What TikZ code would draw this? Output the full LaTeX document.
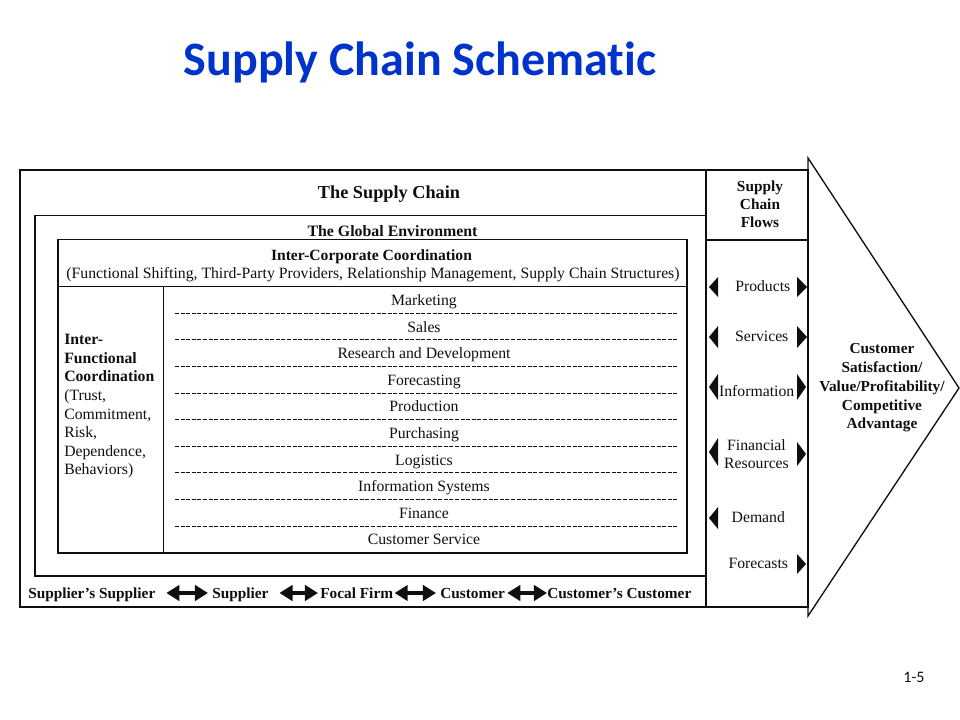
\documentclass[tikz,border=0pt]{standalone}
\usepackage{fontspec}
\setmainfont{Liberation Serif}
\newfontfamily\calibri[Ligatures={NoCommon}]{Carlito}
\usetikzlibrary{arrows.meta}
\definecolor{titleblue}{RGB}{0,51,204}
\definecolor{ink}{RGB}{15,15,15}
\begin{document}
\begin{tikzpicture}[x=0.75pt,y=-0.75pt,
  boxline/.style={draw=ink, line width=1pt},
  rg/.style={inner sep=0pt, text=ink, font=\fontsize{11.8}{14}\selectfont, text height=7.8pt, text depth=0pt},
  bd/.style={inner sep=0pt, text=ink, font=\bfseries\fontsize{11.5}{14}\selectfont, text height=7.6pt, text depth=0pt},
  multi/.style={inner sep=0pt, text=ink, align=center},
  dsh/.style={draw=ink, line width=0.7pt, dash pattern=on 3pt off 1.2pt},
  flowtri/.style={fill=ink},
  dbl/.style={line width=3pt, draw=ink, {Triangle[length=9.8pt,width=11.5pt]}-{Triangle[length=9.8pt,width=11.5pt]}}
]
\useasboundingbox (0,0) rectangle (960,720);

% title
\node[inner sep=0pt, text=titleblue, font=\calibri\bfseries\fontsize{36}{40}\selectfont, text height=23.2pt, text depth=0pt] (title) at (420,60.5) {Supply Chain Schematic};
\node[inner sep=0pt, text=ink, font=\calibri\fontsize{12}{14}\selectfont, text height=7.7pt, text depth=0pt] (pnum) at (914,677) {1-5};

% big arrow
\draw[boxline] (808,158) -- (959,388) -- (808,616) -- cycle;

% outer box
\draw[boxline] (20,170) rectangle (808,607);
% flows column
\draw[boxline] (706,170) -- (706,607);
\draw[boxline] (706,240) -- (808,240);
% global environment box
\draw[boxline] (35,215.5) rectangle (706,576);
% inter-corporate box
\draw[boxline] (58,239.5) rectangle (687,553);
\draw[boxline] (58,286.5) -- (687,286.5);
\draw[boxline] (163.3,286.5) -- (163.3,553);

% dashed separators
\foreach \k in {0,...,8}{
  \draw[dsh] (175,313.3+26.6*\k) -- (678,313.3+26.6*\k);
}

% headings
\node[bd, font=\bfseries\fontsize{13.7}{16}\selectfont, text height=9pt] (sc) at (389,193) {The Supply Chain};
\node[bd, font=\bfseries\fontsize{11.9}{14}\selectfont, text height=7.8pt] (ge) at (392.5,231) {The Global Environment};
\node[bd, font=\bfseries\fontsize{11.7}{14}\selectfont, text height=7.7pt] (icc) at (371.5,255) {Inter-Corporate Coordination};
\node[rg] (iccsub) at (373,273) {(Functional Shifting, Third-Party Providers, Relationship Management, Supply Chain Structures)};

% functions
\node[rg] (f1) at (424,300.2) {Marketing};
\node[rg] (f2) at (424,326.8) {Sales};
\node[rg] (f3) at (424,353.4) {Research and Development};
\node[rg] (f4) at (424,380) {Forecasting};
\node[rg] (f5) at (424,406.6) {Production};
\node[rg] (f6) at (424,433.2) {Purchasing};
\node[rg] (f7) at (424,459.8) {Logistics};
\node[rg] (f8) at (424,486.4) {Information Systems};
\node[rg] (f9) at (424,513) {Finance};
\node[rg] (f10) at (424,539.3) {Customer Service};

% inter-functional coordination
\node[anchor=west, align=left, inner sep=0pt, text=ink, font=\fontsize{11.8}{13.93}\selectfont] (ifc) at (64,406.3)
  {\textbf{Inter-}\\\textbf{Functional}\\\textbf{Coordination}\\(Trust,\\Commitment,\\Risk,\\Dependence,\\Behaviors)};

% flows header
\node[multi, font=\bfseries\fontsize{11.5}{13.5}\selectfont] (scf) at (760,204.3) {Supply\\Chain\\Flows};

% flows
\node[rg] (pr) at (762.8,286.7) {Products};
\node[rg] (sv) at (761.7,336.7) {Services};
\node[rg] (inf) at (756.7,391.7) {Information};
\node[multi, font=\fontsize{11.8}{14}\selectfont] (fin) at (756.5,454) {Financial\\Resources};
\node[rg] (dm) at (758.3,517.3) {Demand};
\node[rg] (fc) at (758.3,563.3) {Forecasts};

% flow triangles
\fill[flowtri] (709,287) -- (718,277) -- (718,297) -- cycle;
\fill[flowtri] (807,287) -- (797,277) -- (797,297) -- cycle;
\fill[flowtri] (709,337) -- (718,326) -- (718,348) -- cycle;
\fill[flowtri] (807,337) -- (797,326) -- (797,348) -- cycle;
\fill[flowtri] (709,387) -- (718,374) -- (718,400) -- cycle;
\fill[flowtri] (806,387) -- (797,374) -- (797,400) -- cycle;
\fill[flowtri] (709,452) -- (718,438) -- (718,466) -- cycle;
\fill[flowtri] (806,454) -- (797,442) -- (797,466) -- cycle;
\fill[flowtri] (709,518) -- (718,507) -- (718,529) -- cycle;
\fill[flowtri] (806,564) -- (797,554) -- (797,574) -- cycle;

% arrow text
\node[multi, font=\bfseries\fontsize{11.5}{14.06}\selectfont] (cs) at (882,388) {Customer\\Satisfaction/\\Value/Profitability/\\Competitive\\Advantage};

% bottom row
\node[bd, anchor=west] (ss) at (28,593) {Supplier’s Supplier};
\node[bd, anchor=west] (sup) at (212,593) {Supplier};
\node[bd, anchor=west] (ff) at (320,593) {Focal Firm};
\node[bd, anchor=west] (cu) at (440,593) {Customer};
\node[bd, anchor=west] (cc) at (547,593) {Customer’s Customer};

\draw[dbl, shorten <=8pt, shorten >=3pt] (ss.east) -- (sup.west);
\draw[dbl, shorten <=8pt, shorten >=1.5pt] (sup.east) -- (ff.west);
\draw[dbl, shorten <=1pt, shorten >=3pt] (ff.east) -- (cu.west);
\draw[dbl, shorten <=1.5pt, shorten >=0pt] (cu.east) -- (cc.west);
\end{tikzpicture}
\end{document}
